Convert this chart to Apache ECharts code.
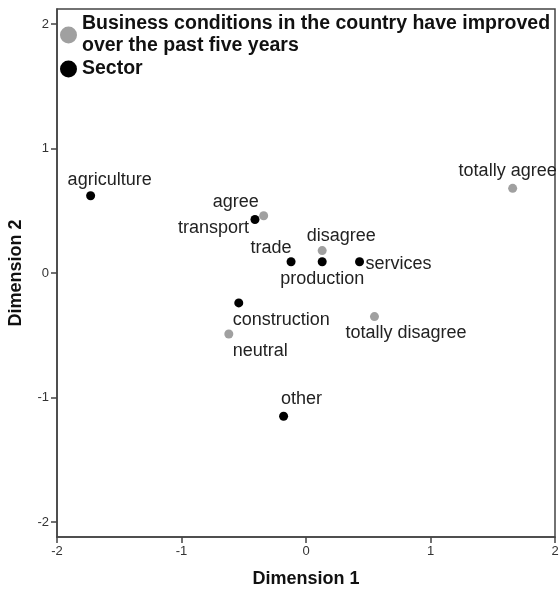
<!DOCTYPE html>
<html><head><meta charset="utf-8">
<script src="https://cdn.jsdelivr.net/npm/echarts@6/dist/echarts.min.js"></script>
<style>html,body{margin:0;padding:0;background:#fff}#c{width:559px;height:593px}</style>
</head><body><div id="c"></div>
<script>
// ---- data ----
const businessName = 'Business conditions in the country have improved over the past five years';
const businessCategories = ['totally agree', 'agree', 'neutral', 'disagree', 'totally disagree'];
const businessDim1 = [1.66, -0.34, -0.62, 0.13, 0.55];
const businessDim2 = [0.68, 0.46, -0.49, 0.18, -0.35];

const sectorName = 'Sector';
const sectorCategories = ['agriculture', 'transport', 'trade', 'production', 'services', 'construction', 'other'];
const sectorDim1 = [-1.73, -0.41, -0.12, 0.13, 0.43, -0.54, -0.18];
const sectorDim2 = [0.62, 0.43, 0.09, 0.09, 0.09, -0.24, -1.15];

const axisTicks = [-2, -1, 0, 1, 2];

// ---- label placement (styling only) ----
const labelPlacement = {
  'totally agree': { align: 'right', offset: [44, -17] },
  'agree': { align: 'center', offset: [-28, -14] },
  'neutral': { align: 'left', offset: [4, 17] },
  'disagree': { align: 'center', offset: [19, -15] },
  'totally disagree': { align: 'left', offset: [-29, 16] },
  'agriculture': { align: 'left', offset: [-23, -16] },
  'transport': { align: 'right', offset: [-6, 9] },
  'trade': { align: 'center', offset: [-20, -14] },
  'production': { align: 'center', offset: [0, 17] },
  'services': { align: 'left', offset: [6, 2] },
  'construction': { align: 'left', offset: [-6, 17] },
  'other': { align: 'center', offset: [18, -17] }
};

const FONT = '"Liberation Sans", Arial, sans-serif';

function buildData(cats, xs, ys) {
  return cats.map((c, i) => ({
    name: c,
    value: [xs[i], ys[i]],
    label: {
      show: true,
      formatter: c,
      position: 'inside',
      align: labelPlacement[c].align,
      verticalAlign: 'middle',
      offset: labelPlacement[c].offset
    }
  }));
}

const labelStyle = { fontFamily: FONT, fontSize: 18, color: '#222', opacity: 1 };

const chart = echarts.init(document.getElementById('c'), null, { renderer: 'canvas' });
chart.setOption({
  animation: false,
  backgroundColor: '#fff',
  grid: { left: 57, right: 4, top: 9, bottom: 56, outerBoundsMode: 'none', containLabel: false, show: true, borderColor: '#444', borderWidth: 1.5, backgroundColor: 'transparent' },
  legend: {
    orient: 'vertical', left: 55, top: 8,
    itemWidth: 17, itemHeight: 17, itemGap: 1,
    icon: 'circle',
    data: [businessName, sectorName],
    formatter: n => n === businessName ? 'Business conditions in the country have improved\nover the past five years' : n,
    textStyle: { fontFamily: FONT, fontSize: 19.5, fontWeight: 'bold', color: '#111', lineHeight: 22 }
  },
  xAxis: {
    type: 'value', min: -2, max: 2, interval: 1,
    name: 'Dimension 1', nameLocation: 'middle', nameGap: 33,
    nameTextStyle: { fontFamily: FONT, fontSize: 18, fontWeight: 'bold', color: '#111' },
    splitLine: { show: false },
    axisLine: { show: true, onZero: false, lineStyle: { color: '#444', width: 1.5 } },
    axisTick: { show: true, length: 6, lineStyle: { color: '#444', width: 1.5 } },
    axisLabel: { fontFamily: FONT, fontSize: 13, color: '#333', margin: 8, showMinLabel: true, showMaxLabel: true }
  },
  yAxis: {
    type: 'value', min: -2.12, max: 2.12,
    name: 'Dimension 2', nameLocation: 'middle', nameGap: 32, nameRotate: 90,
    nameTextStyle: { fontFamily: FONT, fontSize: 18, fontWeight: 'bold', color: '#111' },
    splitLine: { show: false },
    axisLine: { show: true, onZero: false, lineStyle: { color: '#444', width: 1.5 } },
    axisTick: { show: true, length: 6, customValues: axisTicks, lineStyle: { color: '#444', width: 1.5 } },
    axisLabel: { fontFamily: FONT, fontSize: 13, color: '#333', margin: 8, customValues: axisTicks }
  },
  series: [
    {
      name: businessName, type: 'scatter', symbol: 'circle', symbolSize: 9,
      itemStyle: { color: '#a0a0a0', opacity: 1 },
      label: labelStyle,
      data: buildData(businessCategories, businessDim1, businessDim2)
    },
    {
      name: sectorName, type: 'scatter', symbol: 'circle', symbolSize: 9,
      itemStyle: { color: '#000', opacity: 1 },
      label: labelStyle,
      data: buildData(sectorCategories, sectorDim1, sectorDim2)
    }
  ]
});
</script>
</body></html>
